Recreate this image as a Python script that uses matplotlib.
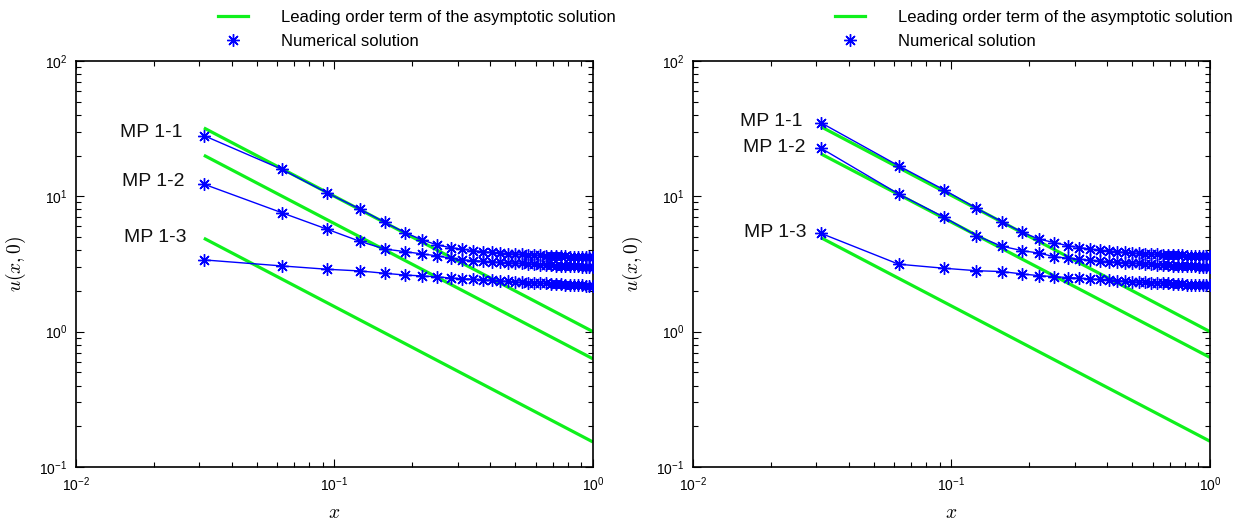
import matplotlib
matplotlib.use("Agg")
import matplotlib.pyplot as plt
from matplotlib.lines import Line2D

plt.rcParams['font.family'] = ['Liberation Sans', 'DejaVu Sans']
plt.rcParams['mathtext.fontset'] = 'custom'
plt.rcParams['mathtext.rm'] = 'Liberation Sans'
plt.rcParams['mathtext.it'] = 'Liberation Sans:italic'
plt.rcParams['mathtext.bf'] = 'Liberation Sans:bold'

# ---------------- data ----------------
x_num = [0.03125, 0.0625, 0.09375, 0.125, 0.15625, 0.1875, 0.21875, 0.25,
         0.28125, 0.3125, 0.34375, 0.375, 0.40625, 0.4375, 0.46875, 0.5,
         0.53125, 0.5625, 0.59375, 0.625, 0.65625, 0.6875, 0.71875, 0.75,
         0.78125, 0.8125, 0.84375, 0.875, 0.90625, 0.9375, 0.96875, 1.0]
x_asym = [0.03125, 1.0]

# left panel
left_num_11 = [28.1, 15.85, 10.6, 8.07, 6.43, 5.39, 4.76, 4.37, 4.18, 4.06,
               3.97, 3.90, 3.85, 3.81, 3.77, 3.74, 3.72, 3.70, 3.68, 3.66,
               3.65, 3.64, 3.62, 3.61, 3.60, 3.59, 3.58, 3.57, 3.57, 3.56,
               3.55, 3.55]
left_num_12 = [12.3, 7.57, 5.71, 4.66, 4.08, 3.90, 3.75, 3.63, 3.49, 3.39,
               3.35, 3.31, 3.28, 3.25, 3.23, 3.21, 3.19, 3.17, 3.15, 3.13,
               3.11, 3.10, 3.08, 3.07, 3.06, 3.05, 3.04, 3.03, 3.02, 3.01,
               3.00, 2.99]
left_num_13 = [3.39, 3.06, 2.89, 2.81, 2.70, 2.62, 2.58, 2.54, 2.49, 2.46,
               2.44, 2.42, 2.40, 2.37, 2.35, 2.33, 2.31, 2.30, 2.29, 2.28,
               2.27, 2.26, 2.25, 2.24, 2.23, 2.22, 2.21, 2.20, 2.20, 2.19,
               2.19, 2.18]
left_asym_11 = [32.0, 1.0]
left_asym_12 = [20.1, 0.63]
left_asym_13 = [4.9, 0.153]

# right panel
right_num_11 = [35.0, 16.8, 11.15, 8.16, 6.50, 5.43, 4.82, 4.55, 4.32, 4.18,
                4.08, 4.00, 3.94, 3.89, 3.85, 3.81, 3.78, 3.76, 3.74, 3.72,
                3.70, 3.69, 3.68, 3.67, 3.66, 3.65, 3.64, 3.64, 3.63, 3.63,
                3.62, 3.62]
right_num_12 = [22.7, 10.4, 7.0, 5.12, 4.28, 3.97, 3.80, 3.58, 3.49, 3.43,
                3.37, 3.32, 3.29, 3.26, 3.23, 3.21, 3.19, 3.17, 3.15, 3.13,
                3.11, 3.10, 3.08, 3.07, 3.06, 3.05, 3.04, 3.03, 3.02, 3.01,
                3.00, 2.99]
right_num_13 = [5.33, 3.15, 2.94, 2.82, 2.78, 2.67, 2.59, 2.55, 2.51, 2.48,
                2.45, 2.43, 2.41, 2.38, 2.36, 2.34, 2.32, 2.31, 2.30, 2.29,
                2.28, 2.27, 2.26, 2.25, 2.24, 2.23, 2.22, 2.22, 2.21, 2.21,
                2.20, 2.20]
right_asym_11 = [32.7, 1.0]
right_asym_12 = [20.6, 0.645]
right_asym_13 = [4.95, 0.155]

case_labels = ['MP 1-1', 'MP 1-2', 'MP 1-3']
legend_labels = ['Leading order term of the asymptotic solution',
                 'Numerical solution']

# ---------------- styling ----------------
GREEN = '#0ff01c'
BLUE = '#0000ff'
MARKER = (8, 2, 0)
MS = 9

fig = plt.figure(figsize=(12.33, 5.22), dpi=100)
ax_l = fig.add_axes([0.0616, 0.1054, 0.4193, 0.7778])
ax_r = fig.add_axes([0.5620, 0.1054, 0.4193, 0.7778])

panels = [
    (ax_l, [left_asym_11, left_asym_12, left_asym_13],
     [left_num_11, left_num_12, left_num_13],
     [(0.0259, 29.4), (0.0262, 12.8), (0.0268, 4.92)]),
    (ax_r, [right_asym_11, right_asym_12, right_asym_13],
     [right_num_11, right_num_12, right_num_13],
     [(0.0266, 35.6), (0.0272, 22.8), (0.0276, 5.36)]),
]

for ax, asyms, nums, lab_pos in panels:
    for a in asyms:
        ax.plot(x_asym, a, color=GREEN, lw=2.3, solid_capstyle='butt', zorder=2)
    for n in nums:
        ax.plot(x_num, n, color=BLUE, lw=1.0, marker=MARKER, ms=MS,
                mew=1.0, mec=BLUE, zorder=3)
    for lab, (tx, ty) in zip(case_labels, lab_pos):
        ax.text(tx, ty, lab, ha='right', va='center', fontsize=14, color='#111111')

    ax.set_xscale('log')
    ax.set_yscale('log')
    ax.set_xlim(1e-2, 1e0)
    ax.set_ylim(1e-1, 1e2)
    ax.tick_params(which='both', direction='in', top=True, right=True,
                   labelsize=10, width=0.8, pad=6)
    ax.tick_params(which='major', length=6)
    ax.tick_params(which='minor', length=3.5)
    for s in ax.spines.values():
        s.set_linewidth(1.2)
    ax.set_xlabel('$x$', fontsize=14, math_fontfamily='cm', labelpad=8)
    ax.set_ylabel('$u(x,0)$', fontsize=14, math_fontfamily='cm', labelpad=8)

    handles = [Line2D([], [], color=GREEN, lw=2.3),
               Line2D([], [], color=BLUE, ls='none', marker=MARKER, ms=MS, mew=1.0)]
    ax.legend(handles, legend_labels, loc='lower left',
              bbox_to_anchor=(0.275, 1.03), frameon=False, fontsize=12,
              handlelength=1.8, handletextpad=2.0, labelspacing=0.55,
              borderpad=0.0, borderaxespad=0.0)

fig.savefig('out.png', dpi=100)
